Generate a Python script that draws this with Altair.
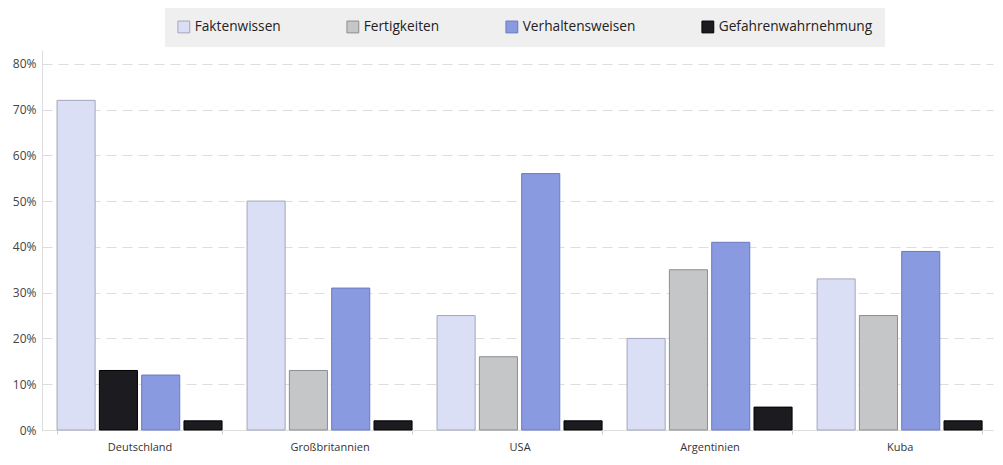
import altair as alt
import pandas as pd

countries = ["Deutschland", "Großbritannien", "USA", "Argentinien", "Kuba"]
series = ["Faktenwissen", "Fertigkeiten", "Verhaltensweisen", "Gefahrenwahrnehmung"]
faktenwissen = [72, 50, 25, 20, 33]
fertigkeiten = [13, 13, 16, 35, 25]
verhaltensweisen = [12, 31, 56, 41, 39]
gefahrenwahrnehmung = [2, 2, 2, 5, 2]
fill_colors = ["#dadff5", "#c5c6c8", "#8a9ae0", "#1c1b1f"]
stroke_colors = ["#a3a6bd", "#8c8d90", "#6b79c0", "#000000"]
dark_override = [("Deutschland", "Fertigkeiten")]
y_ticks = [0, 10, 20, 30, 40, 50, 60, 70, 80]

values_by_series = [faktenwissen, fertigkeiten, verhaltensweisen, gefahrenwahrnehmung]
rows = []
for s, vals in zip(series, values_by_series):
    for c, v in zip(countries, vals):
        rows.append({"country": c, "series": s, "value": v,
                     "dark": (c, s) in dark_override})
df = pd.DataFrame(rows)

font = "Open Sans"

chart = alt.Chart(df).mark_bar(strokeWidth=1).encode(
    x=alt.X("country:N", sort=countries,
            scale=alt.Scale(paddingInner=0.1316, paddingOuter=0.0683, align=0.58),
            axis=alt.Axis(title=None, labelAngle=0, tickBand="extent", tickSize=4,
                          tickColor="#cccccc", domainColor="#dddddd", labelPadding=7,
                          labelFontSize=11, labelColor="#333333", grid=False)),
    xOffset=alt.XOffset("series:N", sort=series,
                        scale=alt.Scale(paddingInner=0.1, paddingOuter=0)),
    y=alt.Y("value:Q", scale=alt.Scale(domain=[0, 83], nice=False),
            axis=alt.Axis(title=None, values=y_ticks, labelExpr="datum.value + '%'",
                          grid=True, gridDash=[10, 6], gridColor="#dddddd",
                          domainColor="#dddddd", ticks=False, labelPadding=6,
                          labelFontSize=12, labelColor="#444444")),
    color=alt.condition(
        "datum.dark",
        alt.value("#1c1b1f"),
        alt.Color("series:N", sort=series,
                  scale=alt.Scale(domain=series, range=fill_colors),
                  legend=alt.Legend(orient="none", legendX=123, legendY=-42,
                                    direction="horizontal", title=None,
                                    fillColor="#efefef", padding=12, columnPadding=63,
                                    symbolType="square", symbolSize=140,
                                    symbolStrokeColor="#888888", symbolStrokeWidth=1,
                                    labelFontSize=13.7, labelOffset=4, labelFont=font,
                                    labelColor="#222222"))),
    stroke=alt.condition(
        "datum.dark",
        alt.value("#000000"),
        alt.Stroke("series:N", sort=series,
                   scale=alt.Scale(domain=series, range=stroke_colors), legend=None)),
).properties(
    width=951, height=380,
    autosize=alt.AutoSizeParams(type="none"),
    padding={"left": 34, "top": 42, "right": 2, "bottom": 27},
).configure(font=font).configure_view(stroke=None)

chart.save("out.html", embed_options={"renderer": "svg", "actions": False})
